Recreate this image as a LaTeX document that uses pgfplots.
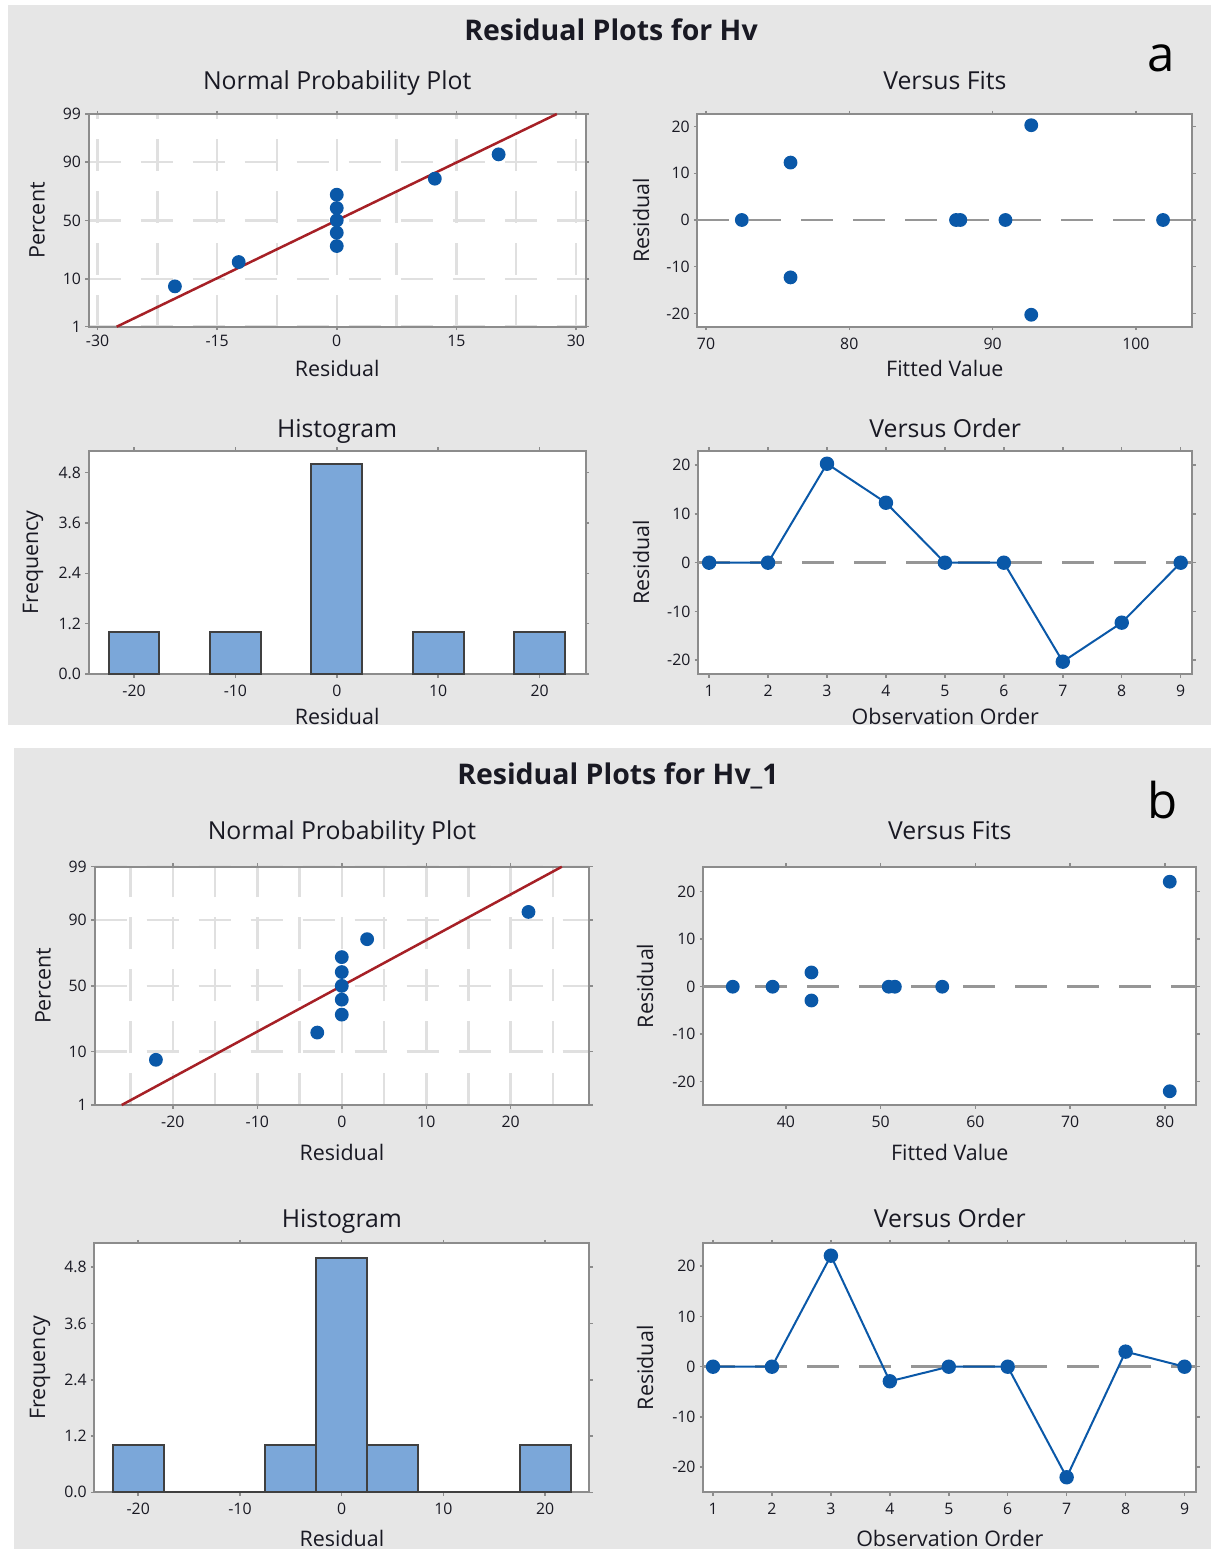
\documentclass[border=0pt]{standalone}
\usepackage{fontspec}
\setmainfont{Open Sans}
\usepackage{pgfplots}
\pgfplotsset{compat=1.18}

\definecolor{panelgray}{RGB}{230,230,230}
\definecolor{mblue}{RGB}{10,88,168}
\definecolor{fitred}{RGB}{166,32,38}
\definecolor{barblue}{RGB}{123,167,217}
\definecolor{bardraw}{RGB}{64,64,64}
\definecolor{gridgray}{RGB}{224,224,224}
\definecolor{refgray}{RGB}{150,150,150}
\definecolor{boxgray}{RGB}{140,140,140}
\definecolor{txt}{RGB}{25,25,35}

% 1 px of the reference = 0.1 mm here
\pgfplotsset{
  mtb/.style={
    scale only axis, anchor=north west, clip=false,
    axis background/.style={fill=white},
    axis line style={draw=boxgray, line width=0.2mm},
    tick align=outside, major tick length=0.35mm, minor tick length=0mm,
    tick style={draw=boxgray, line width=0.15mm},
    every tick label/.append style={font=\fontsize{4.5}{5}\selectfont, text=txt},
    xticklabel style={anchor=center, yshift=-1.33mm},
    yticklabel style={anchor=east, inner sep=0pt, xshift=-0.36mm},
    grid style={draw=gridgray, line width=0.25mm, dash pattern=on 3.2mm off 2mm},
    minor grid style={draw=gridgray, line width=0.25mm, dash pattern=on 3.2mm off 2mm},
  },
  tsh/.style={every axis title/.style={at={(0.5,1)}, anchor=base, yshift=#1,
      font=\fontsize{7.05}{8}\selectfont, text=txt}},
  xsh/.style={every axis x label/.style={at={(0.5,0)}, anchor=center, yshift=#1,
      font=\fontsize{6.1}{7}\selectfont, text=txt}},
  ysh/.style={every axis y label/.style={at={(0,0.5)}, anchor=center, xshift=#1, rotate=90,
      font=\fontsize{6.1}{7}\selectfont, text=txt}},
  pts/.style={only marks, mark=*, mark size=0.62mm, mark options={fill=mblue, draw=mblue}},
  refline/.style={refgray, line width=0.25mm, dash pattern=on 3.2mm off 2mm},
  fitline/.style={fitred, line width=0.25mm},
  ordline/.style={mblue, line width=0.2mm, mark=*, mark size=0.62mm, mark options={fill=mblue, draw=mblue}},
  hbar/.style={ybar, bar width=5, fill=barblue, draw=bardraw, line width=0.2mm},
}

\begin{document}
\begin{tikzpicture}
\useasboundingbox (0,0) rectangle (121.1mm,-154.9mm);
\fill[white] (0,0) rectangle (121.1mm,-154.9mm);
\fill[panelgray] (0.8mm,-0.5mm) rectangle (121.1mm,-72.5mm);
\fill[panelgray] (1.4mm,-74.8mm) rectangle (121.1mm,-154.9mm);

\node[anchor=base, text=txt, font=\bfseries\fontsize{8.1}{9}\selectfont] at (61.1mm,-4.0mm) {Residual Plots for Hv};
\node[anchor=base, text=txt, font=\bfseries\fontsize{8.1}{9}\selectfont] at (61.8mm,-78.4mm) {Residual Plots for Hv\_1};
\node[anchor=center, text=black, font=\fontsize{14}{16}\selectfont] at (116.07mm,-5.83mm) {a};
\node[anchor=center, text=black, font=\fontsize{14}{16}\selectfont] at (116.3mm,-80.0mm) {b};

% ---------- panel a ----------
\begin{axis}[mtb, at={(8.88mm,-11.4mm)}, width=49.67mm, height=21.27mm,
  xmin=-31.1, xmax=31.2, ymin=-2.3263, ymax=2.3263,
  xtick={-30,-15,0,15,30}, xticklabels={-30,-15,0,15,30},
  minor xtick={-22.5,-7.5,7.5,22.5},
  ytick={-2.3263,-1.2816,0,1.2816,2.3263}, yticklabels={1,10,50,90,99},
  grid=both, xticklabel style={yshift=0.3mm},
  tsh=2.5mm, xsh=-4.2mm, ysh=-5.18mm,
  title={Normal Probability Plot}, xlabel={Residual}, ylabel={Percent}]
\addplot[fitline] coordinates {(-27.6,-2.3263) (27.6,2.3263)};
\addplot[pts] coordinates {
  (-20.3,-1.4435) (-12.3,-0.9117) (0,-0.5614) (0,-0.2694) (0,0)
  (0,0.2694) (0,0.5614) (12.3,0.9117) (20.3,1.4435)};
\end{axis}

\begin{axis}[mtb, at={(69.74mm,-11.4mm)}, width=49.49mm, height=21.27mm,
  xmin=69.4, xmax=103.94, ymin=-22.86, ymax=22.7,
  xtick={70,80,90,100}, xticklabels={70,80,90,100},
  ytick={-20,-10,0,10,20}, yticklabels={-20,-10,0,10,20},
  tsh=2.5mm, xsh=-4.2mm, ysh=-5.64mm,
  title={Versus Fits}, xlabel={Fitted Value}, ylabel={Residual}]
\addplot[refline] coordinates {(69.4,0) (103.94,0)};
\addplot[pts] coordinates {
  (72.5,0) (75.9,12.3) (75.9,-12.3) (87.45,0) (87.75,0)
  (90.9,0) (92.7,20.3) (92.7,-20.3) (101.9,0)};
\end{axis}

\begin{axis}[mtb, at={(8.88mm,-45.07mm)}, width=49.67mm, height=22.33mm,
  xmin=-24.46, xmax=24.53, ymin=0, ymax=5.32,
  xtick={-20,-10,0,10,20}, xticklabels={-20,-10,0,10,20},
  ytick={0,1.2,2.4,3.6,4.8}, yticklabels={0.0,1.2,2.4,3.6,4.8},
  tsh=1.37mm, xsh=-4.2mm, ysh=-5.58mm,
  title={Histogram}, xlabel={Residual}, ylabel={Frequency}]
\addplot[hbar] coordinates {(-20,1) (-10,1) (0,5) (10,1) (20,1)};
\end{axis}

\begin{axis}[mtb, at={(69.82mm,-45.07mm)}, width=49.41mm, height=22.33mm,
  xmin=0.815, xmax=9.197, ymin=-22.83, ymax=22.97,
  xtick={1,2,3,4,5,6,7,8,9}, xticklabels={1,2,3,4,5,6,7,8,9},
  ytick={-20,-10,0,10,20}, yticklabels={-20,-10,0,10,20},
  tsh=1.37mm, xsh=-4.2mm, ysh=-5.72mm,
  title={Versus Order}, xlabel={Observation Order}, ylabel={Residual}]
\addplot[refline] coordinates {(0.815,0) (9.197,0)};
\addplot[ordline] coordinates {
  (1,0) (2,0) (3,20.3) (4,12.3) (5,0) (6,0) (7,-20.3) (8,-12.3) (9,0)};
\end{axis}

% ---------- panel b ----------
\begin{axis}[mtb, at={(9.45mm,-86.67mm)}, width=49.49mm, height=23.83mm,
  xmin=-29.27, xmax=29.31, ymin=-2.3263, ymax=2.3263,
  xtick={-20,-10,0,10,20}, xticklabels={-20,-10,0,10,20},
  minor xtick={-25,-15,-5,5,15,25},
  ytick={-2.3263,-1.2816,0,1.2816,2.3263}, yticklabels={1,10,50,90,99},
  grid=both,
  tsh=2.77mm, xsh=-4.7mm, ysh=-5.15mm,
  title={Normal Probability Plot}, xlabel={Residual}, ylabel={Percent}]
\addplot[fitline] coordinates {(-26.05,-2.3263) (26.05,2.3263)};
\addplot[pts] coordinates {
  (-22.0,-1.4435) (-2.9,-0.9117) (0,-0.5614) (0,-0.2694) (0,0)
  (0,0.2694) (0,0.5614) (3.0,0.9117) (22.1,1.4435)};
\end{axis}

\begin{axis}[mtb, at={(70.33mm,-86.67mm)}, width=49.3mm, height=23.83mm,
  xmin=31.29, xmax=83.3, ymin=-24.9, ymax=25.26,
  xtick={40,50,60,70,80}, xticklabels={40,50,60,70,80},
  ytick={-20,-10,0,10,20}, yticklabels={-20,-10,0,10,20},
  tsh=2.77mm, xsh=-4.7mm, ysh=-5.83mm,
  title={Versus Fits}, xlabel={Fitted Value}, ylabel={Residual}]
\addplot[refline] coordinates {(31.29,0) (83.3,0)};
\addplot[pts] coordinates {
  (34.4,0) (38.6,0) (42.7,3.0) (42.7,-2.9) (50.85,0)
  (51.5,0) (56.5,0) (80.5,22.1) (80.5,-22.0)};
\end{axis}

\begin{axis}[mtb, at={(9.45mm,-124.33mm)}, width=49.49mm, height=24.9mm,
  xmin=-24.3, xmax=24.35, ymin=0, ymax=5.31,
  xtick={-20,-10,0,10,20}, xticklabels={-20,-10,0,10,20},
  ytick={0,1.2,2.4,3.6,4.8}, yticklabels={0.0,1.2,2.4,3.6,4.8},
  tsh=1.63mm, xsh=-4.57mm, ysh=-5.45mm,
  title={Histogram}, xlabel={Residual}, ylabel={Frequency}]
\addplot[hbar] coordinates {(-20,1) (-15,0) (-10,0) (-5,1) (0,5) (5,1) (10,0) (15,0) (20,1)};
\end{axis}

\begin{axis}[mtb, at={(70.33mm,-124.33mm)}, width=49.3mm, height=24.9mm,
  xmin=0.835, xmax=9.2, ymin=-25, ymax=24.56,
  xtick={1,2,3,4,5,6,7,8,9}, xticklabels={1,2,3,4,5,6,7,8,9},
  ytick={-20,-10,0,10,20}, yticklabels={-20,-10,0,10,20},
  tsh=1.63mm, xsh=-4.57mm, ysh=-5.83mm,
  title={Versus Order}, xlabel={Observation Order}, ylabel={Residual}]
\addplot[refline] coordinates {(0.835,0) (9.2,0)};
\addplot[ordline] coordinates {
  (1,0) (2,0) (3,22.1) (4,-2.9) (5,0) (6,0) (7,-22.0) (8,3.0) (9,0)};
\end{axis}
\end{tikzpicture}
\end{document}
